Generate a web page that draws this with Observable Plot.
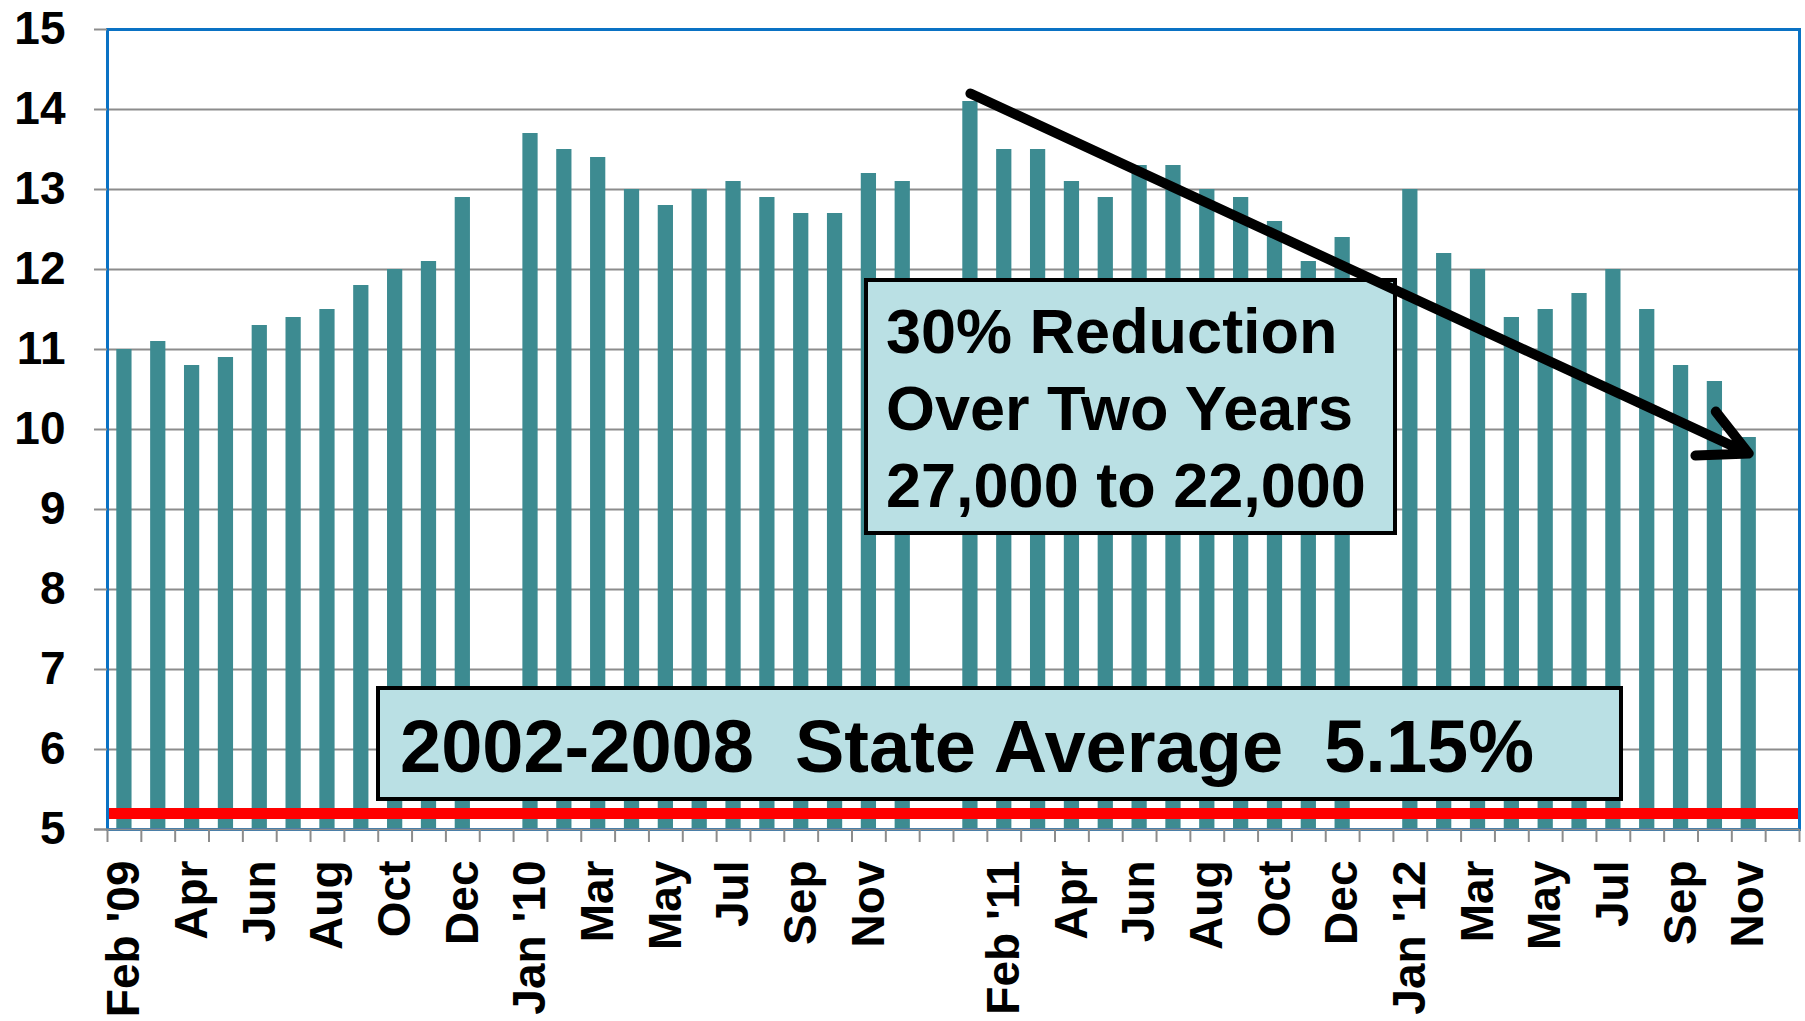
<!DOCTYPE html>
<html>
<head>
<meta charset="utf-8">
<script src="https://cdn.jsdelivr.net/npm/d3@7"></script>
<script src="https://cdn.jsdelivr.net/npm/@observablehq/plot@0.6"></script>
<style>
  html, body { margin: 0; padding: 0; background: #fff; }
  #chart { width: 1805px; height: 1021px; }
</style>
</head>
<body>
<div id="chart"></div>
<script>
// ---- data ----
const categories = [
  "Feb '09","Mar '09","Apr '09","May '09","Jun '09","Jul '09","Aug '09","Sep '09","Oct '09","Nov '09","Dec '09","gap 1",
  "Jan '10","Feb '10","Mar '10","Apr '10","May '10","Jun '10","Jul '10","Aug '10","Sep '10","Oct '10","Nov '10","Dec '10","gap 2",
  "Jan '11","Feb '11","Mar '11","Apr '11","May '11","Jun '11","Jul '11","Aug '11","Sep '11","Oct '11","Nov '11","Dec '11","gap 3",
  "Jan '12","Feb '12","Mar '12","Apr '12","May '12","Jun '12","Jul '12","Aug '12","Sep '12","Oct '12","Nov '12","gap 4"
];
const rates = [
  11.0, 11.1, 10.8, 10.9, 11.3, 11.4, 11.5, 11.8, 12.0, 12.1, 12.9, null,
  13.7, 13.5, 13.4, 13.0, 12.8, 13.0, 13.1, 12.9, 12.7, 12.7, 13.2, 13.1, null,
  14.1, 13.5, 13.5, 13.1, 12.9, 13.3, 13.3, 13.0, 12.9, 12.6, 12.1, 12.4, null,
  13.0, 12.2, 12.0, 11.4, 11.5, 11.7, 12.0, 11.5, 10.8, 10.6, 9.9, null
];
const tickLabels = [
  "Feb '09","","Apr","","Jun","","Aug","","Oct","","Dec","",
  "Jan '10","","Mar","","May","","Jul","","Sep","","Nov","","",
  "","Feb '11","","Apr","","Jun","","Aug","","Oct","","Dec","",
  "Jan '12","","Mar","","May","","Jul","","Sep","","Nov",""
];
const yTicks = [5, 6, 7, 8, 9, 10, 11, 12, 13, 14, 15];
const averageLine = [5.2];
const reductionArrow = [{from: "Jan '11", fromRate: 14.2, to: "Nov '12", toRate: 9.7}];
const reductionText = ["30% Reduction", "Over Two Years", "27,000 to 22,000"];
const averageText = "2002-2008  State Average  5.15%";

const table = categories.map((c, i) => ({cat: c, rate: rates[i]}));
const labelOf = new Map(categories.map((c, i) => [c, tickLabels[i]]));

// ---- layout ----
const W = 1805, H = 1021;
const mL = 107, mR = 6, mT = 29, mB = 192;
const step = (W - mL - mR) / categories.length;
const barColor = "#3d8b91";
const gridColor = "#8c8c8c";

function annotationBoxes() {
  const g = d3.create("svg:g").attr("text-anchor", "start");
  const box = (x, y, w, h) => g.append("rect")
    .attr("x", x).attr("y", y).attr("width", w).attr("height", h)
    .attr("fill", "#bae0e4").attr("stroke", "#000").attr("stroke-width", 4);
  // State average box
  box(378, 688, 1243, 111);
  g.append("text")
    .attr("x", 400).attr("y", 772)
    .attr("text-anchor", "start")
    .attr("xml:space", "preserve")
    .style("white-space", "pre")
    .attr("font-size", 74).attr("font-weight", "bold").attr("fill", "#000")
    .text(averageText);
  // Reduction box
  box(866, 280, 529, 253);
  reductionText.forEach((t, i) => {
    g.append("text")
      .attr("x", 886).attr("y", 353 + i * 77)
      .attr("text-anchor", "start")
      .attr("font-size", 63).attr("font-weight", "bold").attr("fill", "#000")
      .text(t);
  });
  return g.node();
}

const chart = Plot.plot({
  width: W, height: H,
  marginLeft: mL, marginRight: mR, marginTop: mT, marginBottom: mB,
  style: {fontFamily: "'Liberation Sans', Arial, sans-serif", background: "#fff", color: "#000"},
  x: {type: "band", domain: categories, padding: 0},
  y: {domain: [5, 15], nice: false},
  marks: [
    Plot.gridY({ticks: yTicks.slice(1, -1), stroke: gridColor, strokeOpacity: 1, strokeWidth: 2}),
    Plot.barY(table, {x: "cat", y1: 5, y2: "rate", fill: barColor, insetLeft: 9.3, insetRight: 9.3}),
    Plot.ruleY(averageLine, {stroke: "#ff0000", strokeWidth: 11}),
    Plot.frame({stroke: "#0a72c4", strokeWidth: 3}),
    Plot.ruleY([5], {stroke: gridColor, strokeWidth: 2, insetLeft: -13}),
    Plot.axisY({ticks: yTicks, tickSize: 13, tickPadding: 29, fontSize: 46, fontWeight: "bold", stroke: gridColor, strokeWidth: 2, tickFormat: d => String(d)}),
    Plot.axisX({ticks: categories, tickSize: 13, tickPadding: 0, tickFormat: () => "", dx: -step / 2, stroke: gridColor, strokeWidth: 2}),
    Plot.axisX({ticks: [categories[categories.length - 1]], tickSize: 13, tickPadding: 0, tickFormat: () => "", dx: step / 2, stroke: gridColor, strokeWidth: 2}),
    Plot.axisX({ticks: categories, tickSize: 0, tickPadding: 31, tickRotate: -90, fontSize: 46, fontWeight: "bold", tickFormat: d => labelOf.get(d)}),
    annotationBoxes,
    Plot.arrow(reductionArrow, {x1: "from", y1: "fromRate", x2: "to", y2: "toRate", stroke: "#000", strokeWidth: 10, headLength: 8, headAngle: 54})
  ]
});
document.getElementById("chart").appendChild(chart);
</script>
</body>
</html>
